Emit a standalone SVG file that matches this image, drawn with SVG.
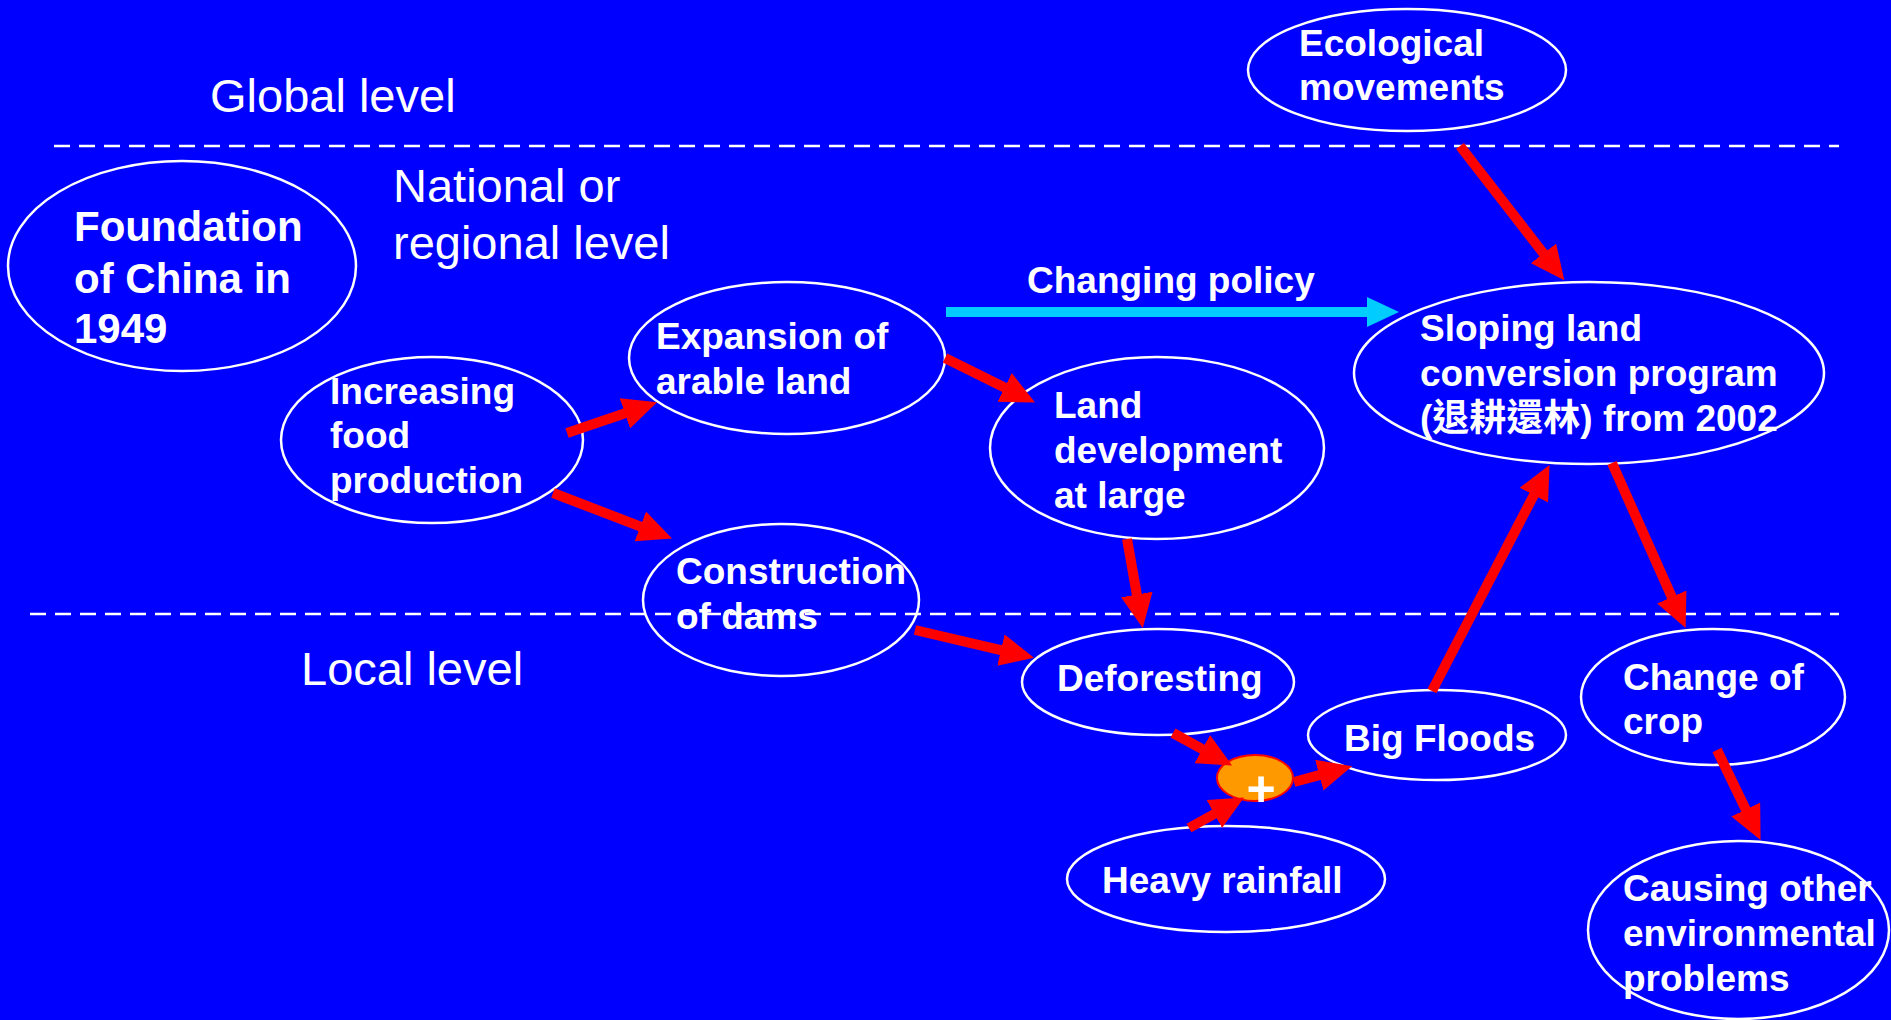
<svg xmlns="http://www.w3.org/2000/svg" width="1891" height="1020" viewBox="0 0 1891 1020">
<style>
.n{fill:none;stroke:#fff;stroke-width:2.5}
.t{font-family:"Liberation Sans",Arial,"Noto Sans CJK TC",sans-serif;font-weight:bold;font-size:37px;fill:#fff}
.lv{font-family:"Liberation Sans",Arial,sans-serif;font-size:47px;fill:#fff}
.dash{stroke:#fff;stroke-width:2.5;stroke-dasharray:16 9}
.r{stroke:#f00;stroke-width:10;fill:none;marker-end:url(#rh)}
</style>
<defs>
<marker id="rh" markerUnits="userSpaceOnUse" viewBox="0 0 34 32" markerWidth="34" markerHeight="32" refX="1" refY="16" orient="auto"><path d="M0,0 L34,16 L0,32 z" fill="#f00"/></marker>
<marker id="ch" markerUnits="userSpaceOnUse" viewBox="0 0 32 30" markerWidth="32" markerHeight="30" refX="1" refY="15" orient="auto"><path d="M0,0 L32,15 L0,30 z" fill="#00ccff"/></marker>
</defs>
<rect width="1891" height="1020" fill="#0000ff"/>
<g id="levels">
<line class="dash" x1="54" y1="146" x2="1839" y2="146"/>
<line class="dash" x1="30" y1="614" x2="1839" y2="614"/>
<text class="lv" x="210" y="112">Global level</text>
<text class="lv" x="393" y="202">National or</text>
<text class="lv" x="393" y="259">regional level</text>
<text class="lv" x="301" y="685">Local level</text>
</g>
<g id="foundation"><ellipse class="n" cx="182" cy="266" rx="174" ry="105"/><text class="t" style="font-size:42px" x="74"><tspan x="74" y="241">Foundation</tspan><tspan x="74" y="293">of China in</tspan><tspan x="74" y="343">1949</tspan></text></g>
<g id="increasing"><ellipse class="n" cx="432" cy="440" rx="151" ry="83"/><text class="t"><tspan x="330" y="404">Increasing</tspan><tspan x="330" y="448">food</tspan><tspan x="330" y="493">production</tspan></text></g>
<g id="expansion"><ellipse class="n" cx="787" cy="358" rx="158" ry="76"/><text class="t"><tspan x="656" y="349">Expansion of</tspan><tspan x="656" y="394">arable land</tspan></text></g>
<g id="construction"><ellipse class="n" cx="781" cy="600" rx="138" ry="76"/><text class="t"><tspan x="676" y="584">Construction</tspan><tspan x="676" y="629">of dams</tspan></text></g>
<g id="land"><ellipse class="n" cx="1157" cy="448" rx="167" ry="91"/><text class="t"><tspan x="1054" y="418">Land</tspan><tspan x="1054" y="463">development</tspan><tspan x="1054" y="508">at large</tspan></text></g>
<g id="ecological"><ellipse class="n" cx="1407" cy="70" rx="159" ry="61"/><text class="t"><tspan x="1299" y="56">Ecological</tspan><tspan x="1299" y="100">movements</tspan></text></g>
<g id="sloping"><ellipse class="n" cx="1589" cy="373" rx="235" ry="91"/><text class="t"><tspan x="1420" y="341">Sloping land</tspan><tspan x="1420" y="386">conversion program</tspan><tspan x="1420" y="431">(退耕還林) from 2002</tspan></text></g>
<g id="deforesting"><ellipse class="n" cx="1158" cy="682" rx="136" ry="53"/><text class="t" x="1057" y="691">Deforesting</text></g>
<g id="floods"><ellipse class="n" cx="1437" cy="735" rx="129" ry="45"/><text class="t" x="1344" y="751">Big Floods</text></g>
<g id="change"><ellipse class="n" cx="1713" cy="697" rx="132" ry="68"/><text class="t"><tspan x="1623" y="690">Change of</tspan><tspan x="1623" y="734">crop</tspan></text></g>
<g id="heavy"><ellipse class="n" cx="1226" cy="879" rx="159" ry="53"/><text class="t" x="1102" y="893">Heavy rainfall</text></g>
<g id="causing"><ellipse class="n" cx="1738.5" cy="930" rx="150.5" ry="89"/><text class="t"><tspan x="1623" y="901">Causing other</tspan><tspan x="1623" y="946">environmental</tspan><tspan x="1623" y="991">problems</tspan></text></g>
<g id="plus"><ellipse cx="1255" cy="778" rx="38" ry="23" fill="#ff9900" stroke="#f00" stroke-width="2"/><text x="1261" y="806" text-anchor="middle" style="font-family:'Liberation Sans',Arial,sans-serif;font-weight:bold;font-size:50px;fill:#fff">+</text></g>
<g id="connectors">
<line class="r" x1="567" y1="433" x2="625.8" y2="413"/>
<line class="r" x1="553" y1="493" x2="641.2" y2="526.8"/>
<line class="r" x1="945" y1="358" x2="1005.5" y2="387.9"/>
<line class="r" x1="1127" y1="539" x2="1137" y2="595.5"/>
<line class="r" x1="915" y1="630" x2="1001.9" y2="650.3"/>
<line class="r" x1="1173" y1="733" x2="1203.2" y2="749.6"/>
<line class="r" x1="1189" y1="828" x2="1215.2" y2="813.5"/>
<line class="r" x1="1294" y1="782" x2="1320.2" y2="774.9"/>
<line class="r" x1="1432" y1="691" x2="1534.3" y2="494.2"/>
<line class="r" x1="1460" y1="146" x2="1544.1" y2="254.2"/>
<line class="r" x1="1612" y1="463" x2="1672.2" y2="597.9"/>
<line class="r" x1="1717" y1="750" x2="1746.2" y2="810.4"/>
<line x1="946" y1="312" x2="1368" y2="312" stroke="#00ccff" stroke-width="10" marker-end="url(#ch)"/>
<text class="t" x="1027" y="293">Changing policy</text>
</g>
</svg>
